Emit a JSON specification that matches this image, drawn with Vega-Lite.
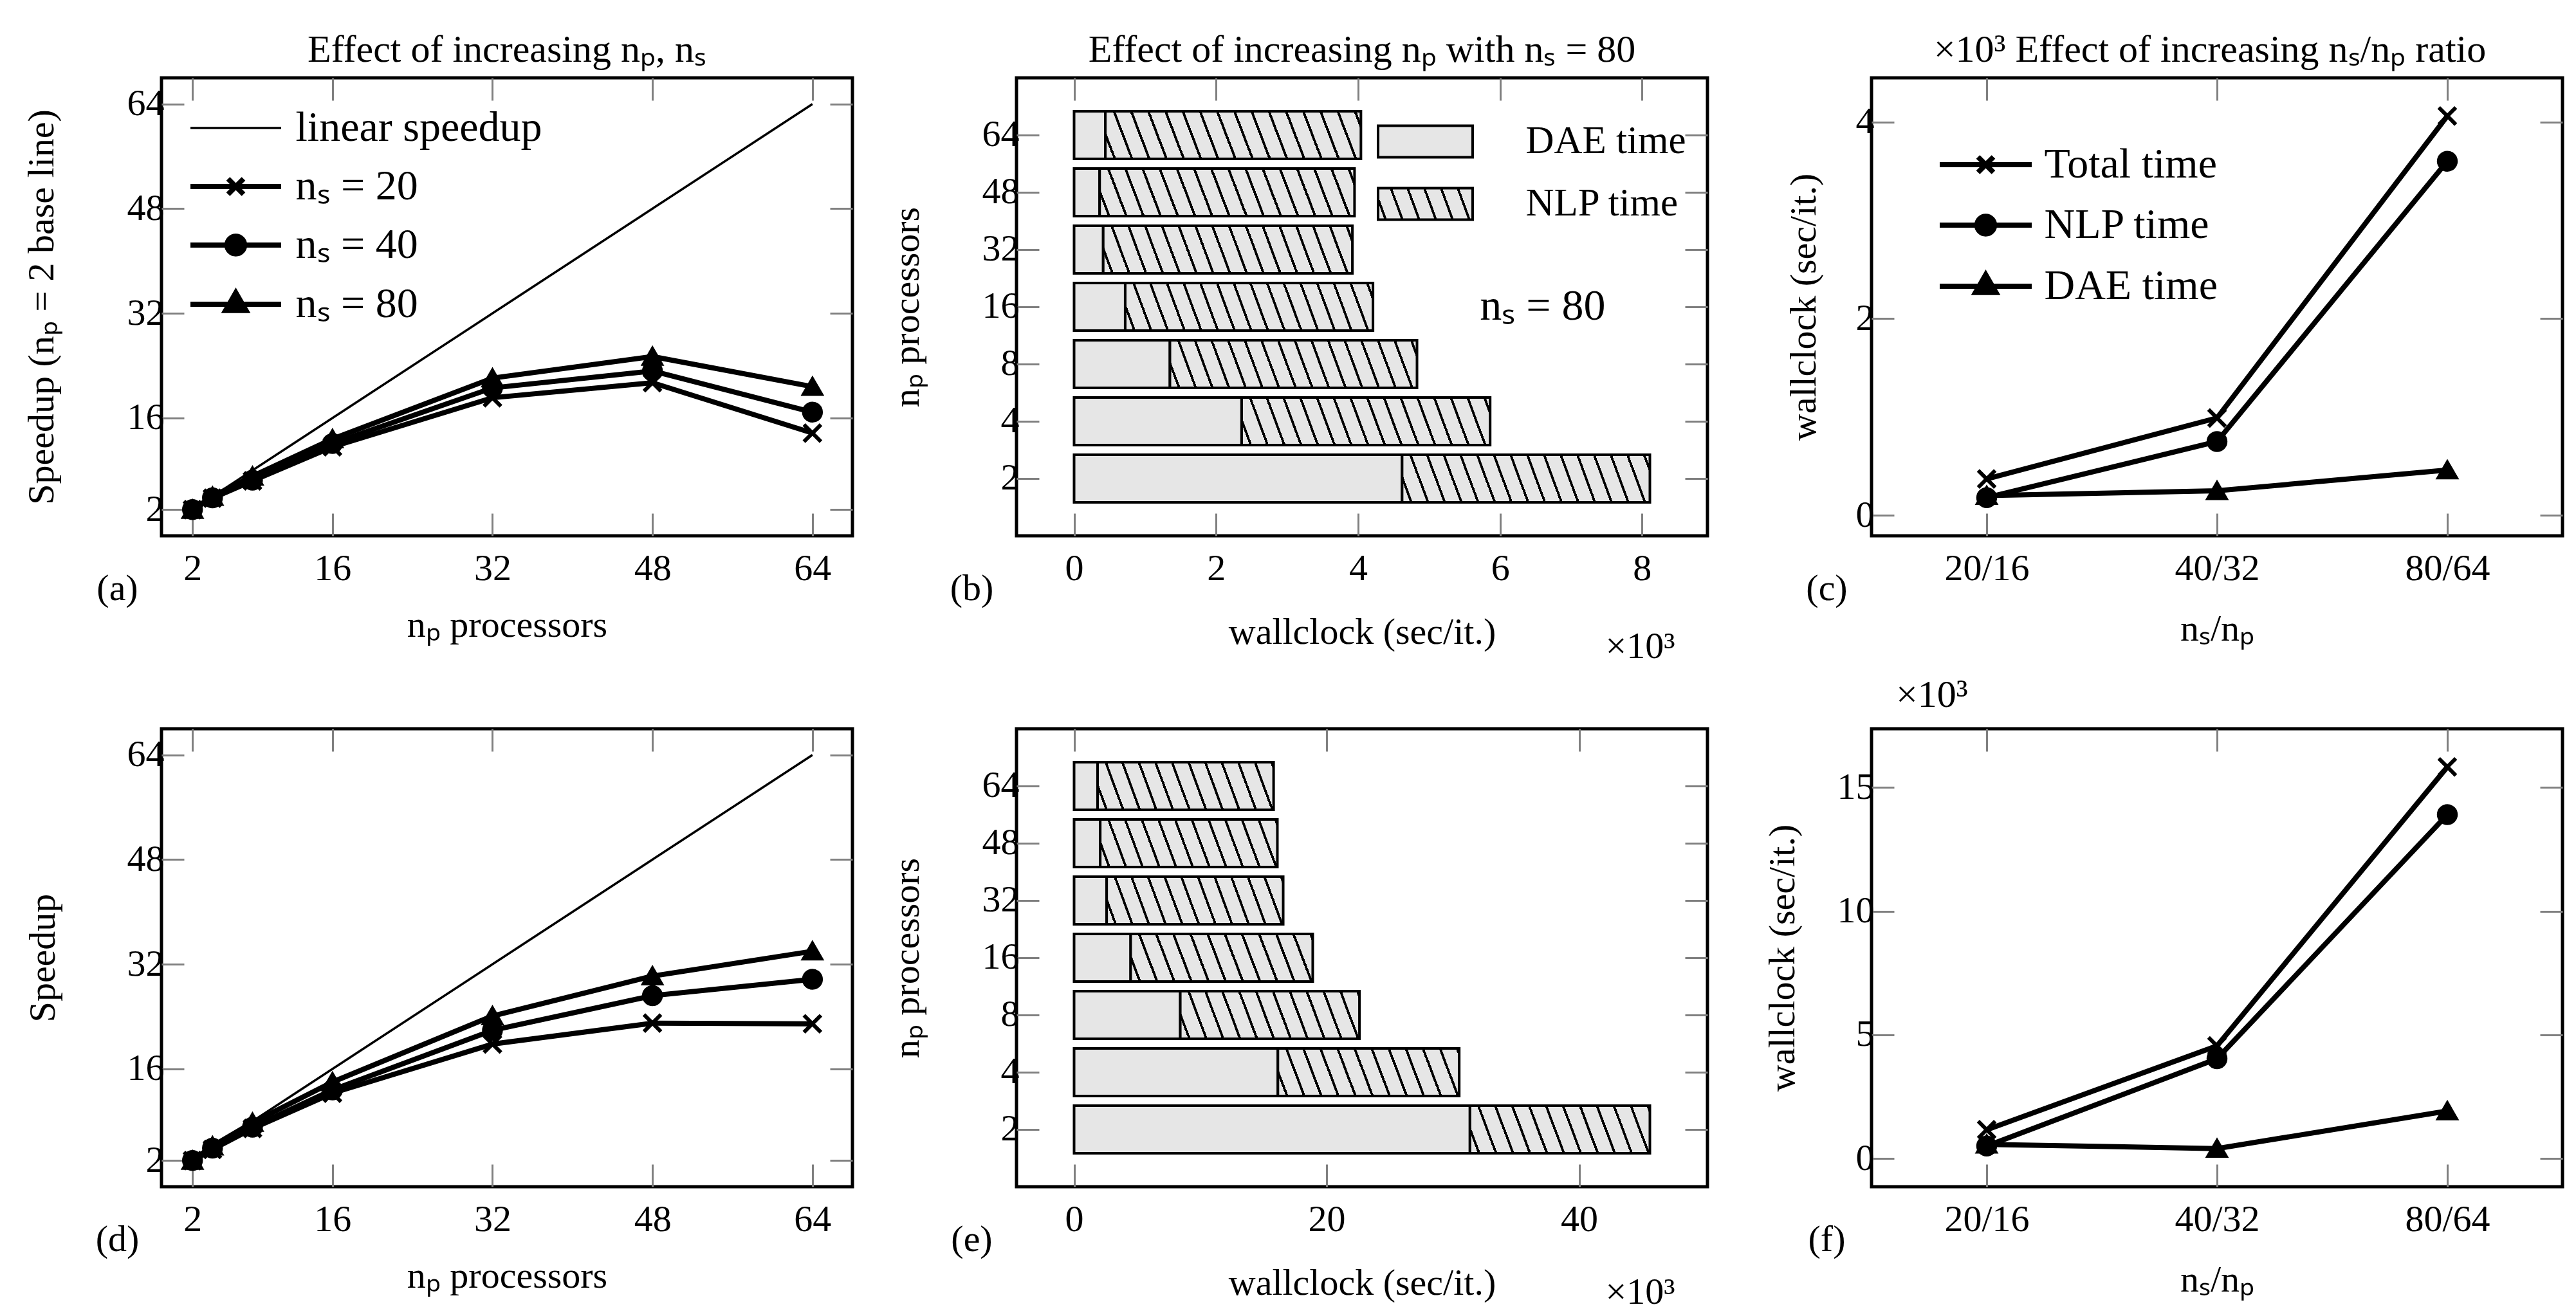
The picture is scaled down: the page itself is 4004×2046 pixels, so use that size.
{
  "$schema": "https://vega.github.io/schema/vega-lite/v6.json",
  "background": "white",
  "padding": {"left": 33, "top": 45, "right": 0, "bottom": 0},
  "columns": 3,
  "spacing": {"row": 300, "column": 255},
  "bounds": "flush",
  "resolve": {
    "scale": {"color": "independent", "shape": "independent", "fill": "independent", "stroke": "independent"},
    "legend": {"color": "independent", "shape": "independent", "fill": "independent", "stroke": "independent"}
  },
  "config": {
    "font": "Liberation Serif",
    "view": {"stroke": "black", "strokeWidth": 5},
    "axis": {
      "domain": false, "grid": false, "ticks": true,
      "tickColor": "#808080", "tickWidth": 3, "tickSize": -35,
      "labelFont": "Liberation Serif", "labelFontSize": 58, "labelColor": "black",
      "labelPadding": 31, "labelFlush": false, "labelOverlap": false,
      "titleFont": "Liberation Serif", "titleFontSize": 58, "titleFontWeight": "normal",
      "titleColor": "black", "titleAlign": "center", "titleBaseline": "middle"
    },
    "axisX": {"labelPadding": 57},
    "axisY": {"labelPadding": 31},
    "title": {"font": "Liberation Serif", "fontSize": 60, "fontWeight": "normal", "color": "black",
              "baseline": "alphabetic", "offset": 11, "frame": "group"},
    "legend": {"labelFont": "Liberation Serif", "labelFontSize": 66, "labelColor": "black", "padding": 0, "labelLimit": 2000}
  },
  "concat": [
    {
      "width": 1074, "height": 712,
      "title": {"text": "Effect of increasing nₚ, nₛ"},
      "data": {"values": [
        {"np": 2, "speedup": 2, "series": "linear speedup"},
        {"np": 64, "speedup": 64, "series": "linear speedup"},
        {"np": 2, "speedup": 2, "series": "nₛ = 20"},
        {"np": 4, "speedup": 3.75, "series": "nₛ = 20"},
        {"np": 8, "speedup": 6.4, "series": "nₛ = 20"},
        {"np": 16, "speedup": 11.6, "series": "nₛ = 20"},
        {"np": 32, "speedup": 19.1, "series": "nₛ = 20"},
        {"np": 48, "speedup": 21.4, "series": "nₛ = 20"},
        {"np": 64, "speedup": 13.7, "series": "nₛ = 20"},
        {"np": 2, "speedup": 2, "series": "nₛ = 40"},
        {"np": 4, "speedup": 3.8, "series": "nₛ = 40"},
        {"np": 8, "speedup": 6.5, "series": "nₛ = 40"},
        {"np": 16, "speedup": 12.1, "series": "nₛ = 40"},
        {"np": 32, "speedup": 20.6, "series": "nₛ = 40"},
        {"np": 48, "speedup": 23.2, "series": "nₛ = 40"},
        {"np": 64, "speedup": 16.9, "series": "nₛ = 40"},
        {"np": 2, "speedup": 2, "series": "nₛ = 80"},
        {"np": 4, "speedup": 4.0, "series": "nₛ = 80"},
        {"np": 8, "speedup": 7.1, "series": "nₛ = 80"},
        {"np": 16, "speedup": 12.8, "series": "nₛ = 80"},
        {"np": 32, "speedup": 22.1, "series": "nₛ = 80"},
        {"np": 48, "speedup": 25.4, "series": "nₛ = 80"},
        {"np": 64, "speedup": 20.8, "series": "nₛ = 80"}
      ]},
      "layer": [
        {
          "mark": {"type": "line", "strokeJoin": "miter"},
          "encoding": {
            "x": {"field": "np", "type": "quantitative",
                  "scale": {"domain": [-1.1, 68], "nice": false, "zero": false},
                  "axis": {"values": [2, 16, 32, 48, 64], "title": "nₚ processors", "titleX": 537, "titleY": 139}},
            "y": {"field": "speedup", "type": "quantitative",
                  "scale": {"domain": [-2, 68], "nice": false, "zero": false},
                  "axis": {"values": [2, 16, 32, 48, 64], "title": "Speedup (nₚ = 2 base line)",
                           "titleX": -186, "titleY": 356, "titleAngle": 270, "titleBaseline": "middle"}},
            "color": {"field": "series", "type": "nominal",
                      "scale": {"domain": ["linear speedup", "nₛ = 20", "nₛ = 40", "nₛ = 80"],
                                "range": ["black", "black", "black", "black"]},
                      "legend": {
                        "orient": "none", "legendX": 45, "legendY": 45, "title": null,
                        "symbolType": "M-2.431,0L2.431,0", "symbolSize": 3364, "symbolStrokeWidth": 8,
                        "symbolOffset": 37.5, "labelOffset": 60, "rowPadding": 25,
                        "encode": {"symbols": {"update": {
                          "shape": {"signal": "datum.value === 'linear speedup' ? 'M-2.431,-0.06L2.431,-0.06L2.431,0.06L-2.431,0.06Z' : datum.value === 'nₛ = 20' ? 'M-2.431,0L2.431,0M-0.414,-0.414L0.414,0.414M-0.414,0.414L0.414,-0.414' : datum.value === 'nₛ = 40' ? 'M-2.431,0L2.431,0M0.472,0A0.472,0.472,0,1,1,-0.472,0A0.472,0.472,0,1,1,0.472,0Z' : 'M-2.431,0L2.431,0M0,-0.62L0.55,0.34L-0.55,0.34Z'"},
                          "strokeOpacity": {"signal": "datum.value === 'linear speedup' ? 0 : 1"},
                          "strokeWidth": {"value": 8},
                          "fill": {"value": "black"},
                          "opacity": {"value": 1}, "fillOpacity": {"value": 1}
                        }}}
                      }},
            "strokeWidth": {"condition": {"test": "datum.series === 'linear speedup'", "value": 3.5}, "value": 8}
          }
        },
        {
          "transform": [{"filter": "datum.series !== 'linear speedup'"}],
          "mark": {"type": "point", "filled": true, "fill": "black", "stroke": "black", "strokeWidth": 6, "size": 700, "opacity": 1},
          "encoding": {
            "x": {"field": "np", "type": "quantitative", "axis": null},
            "y": {"field": "speedup", "type": "quantitative", "axis": null},
            "shape": {"field": "series", "type": "nominal",
                      "scale": {"domain": ["nₛ = 20", "nₛ = 40", "nₛ = 80"],
                                "range": ["M-1,-1L1,1M-1,1L1,-1", "circle", "triangle-up"]},
                      "legend": null}
          }
        },
        {
          "mark": {"type": "point", "opacity": 0},
          "encoding": {
            "x": {"field": "np", "type": "quantitative",
                  "axis": {"orient": "top", "values": [2, 16, 32, 48, 64], "labels": false,
                           "title": "(a)", "titleX": -69, "titleY": 794}},
            "y": {"field": "speedup", "type": "quantitative",
                  "axis": {"orient": "right", "values": [2, 16, 32, 48, 64], "labels": false, "title": null}}
          }
        }
      ],
      "resolve": {"axis": {"x": "independent", "y": "independent"}}
    },
    {
      "width": 1074, "height": 712,
      "title": {"text": "Effect of increasing nₚ with nₛ = 80"},
      "data": {"values": [
        {"np": "64", "dae": 0.44, "total": 4.04},
        {"np": "48", "dae": 0.36, "total": 3.95},
        {"np": "32", "dae": 0.41, "total": 3.92},
        {"np": "16", "dae": 0.72, "total": 4.21},
        {"np": "8", "dae": 1.35, "total": 4.83},
        {"np": "4", "dae": 2.36, "total": 5.86},
        {"np": "2", "dae": 4.62, "total": 8.11}
      ]},
      "layer": [
        {
          "mark": {"type": "bar", "stroke": "black", "strokeWidth": 4},
          "encoding": {
            "y": {"field": "np", "type": "ordinal", "sort": ["64", "48", "32", "16", "8", "4", "2"],
                  "scale": {"paddingInner": 0.17, "paddingOuter": 0.585},
                  "axis": {"title": "nₚ processors", "titleX": -170, "titleY": 356, "titleAngle": 270, "titleBaseline": "middle"}},
            "x": {"field": "dae", "type": "quantitative",
                  "scale": {"domain": [-0.811, 8.921], "nice": false, "zero": false},
                  "axis": {"values": [0, 2, 4, 6, 8], "title": "wallclock (sec/it.)", "titleX": 537, "titleY": 150}},
            "x2": {"datum": 0},
            "fill": {"datum": "DAE time", "type": "nominal",
                     "scale": {"domain": ["DAE time", "NLP time"], "range": ["#e6e6e6",
                       {"expr": "{gradient: 'linear', x1: 0, y1: 1, x2: 1.1065, y2: 0.8636, stops: [{offset: 0, color: '#e6e6e6'}, {offset: 0.06, color: '#e6e6e6'}, {offset: 0.06, color: 'black'}, {offset: 0.0842, color: 'black'}, {offset: 0.0842, color: '#e6e6e6'}, {offset: 0.2175, color: '#e6e6e6'}, {offset: 0.2175, color: 'black'}, {offset: 0.2417, color: 'black'}, {offset: 0.2417, color: '#e6e6e6'}, {offset: 0.375, color: '#e6e6e6'}, {offset: 0.375, color: 'black'}, {offset: 0.3992, color: 'black'}, {offset: 0.3992, color: '#e6e6e6'}, {offset: 0.5325, color: '#e6e6e6'}, {offset: 0.5325, color: 'black'}, {offset: 0.5567, color: 'black'}, {offset: 0.5567, color: '#e6e6e6'}, {offset: 0.69, color: '#e6e6e6'}, {offset: 0.69, color: 'black'}, {offset: 0.7142, color: 'black'}, {offset: 0.7142, color: '#e6e6e6'}, {offset: 0.8475, color: '#e6e6e6'}, {offset: 0.8475, color: 'black'}, {offset: 0.8717, color: 'black'}, {offset: 0.8717, color: '#e6e6e6'}, {offset: 1, color: '#e6e6e6'}]}"}]},
                     "legend": {
                       "orient": "none", "legendX": 564, "legendY": 68, "title": null,
                       "symbolType": "M-2.534,-0.845L2.534,-0.845L2.534,0.845L-2.534,0.845Z", "symbolSize": 3364,
                       "symbolStrokeColor": "black", "symbolStrokeWidth": 4,
                       "symbolOffset": 40.5, "labelOffset": 125, "rowPadding": 31, "labelFontSize": 61,
                       "encode": {"symbols": {"update": {
                         "stroke": {"value": "black"}, "strokeWidth": {"value": 4},
                         "opacity": {"value": 1}, "fillOpacity": {"value": 1}, "strokeOpacity": {"value": 1}
                       }}}
                     }}
          }
        },
        {
          "mark": {"type": "bar", "stroke": "black", "strokeWidth": 4,
                   "fill": {"gradient": "linear", "x1": 0, "y1": 1, "x2": 1.0656, "y2": 0.9244, "stops": [
                     {"offset": 0, "color": "#e6e6e6"},
                     {"offset": 0.03, "color": "#e6e6e6"}, {"offset": 0.03, "color": "black"}, {"offset": 0.0397, "color": "black"}, {"offset": 0.0397, "color": "#e6e6e6"},
                     {"offset": 0.0929, "color": "#e6e6e6"}, {"offset": 0.0929, "color": "black"}, {"offset": 0.1026, "color": "black"}, {"offset": 0.1026, "color": "#e6e6e6"},
                     {"offset": 0.1558, "color": "#e6e6e6"}, {"offset": 0.1558, "color": "black"}, {"offset": 0.1655, "color": "black"}, {"offset": 0.1655, "color": "#e6e6e6"},
                     {"offset": 0.2187, "color": "#e6e6e6"}, {"offset": 0.2187, "color": "black"}, {"offset": 0.2284, "color": "black"}, {"offset": 0.2284, "color": "#e6e6e6"},
                     {"offset": 0.2816, "color": "#e6e6e6"}, {"offset": 0.2816, "color": "black"}, {"offset": 0.2913, "color": "black"}, {"offset": 0.2913, "color": "#e6e6e6"},
                     {"offset": 0.3445, "color": "#e6e6e6"}, {"offset": 0.3445, "color": "black"}, {"offset": 0.3542, "color": "black"}, {"offset": 0.3542, "color": "#e6e6e6"},
                     {"offset": 0.4074, "color": "#e6e6e6"}, {"offset": 0.4074, "color": "black"}, {"offset": 0.4171, "color": "black"}, {"offset": 0.4171, "color": "#e6e6e6"},
                     {"offset": 0.4703, "color": "#e6e6e6"}, {"offset": 0.4703, "color": "black"}, {"offset": 0.48, "color": "black"}, {"offset": 0.48, "color": "#e6e6e6"},
                     {"offset": 0.5332, "color": "#e6e6e6"}, {"offset": 0.5332, "color": "black"}, {"offset": 0.5429, "color": "black"}, {"offset": 0.5429, "color": "#e6e6e6"},
                     {"offset": 0.5961, "color": "#e6e6e6"}, {"offset": 0.5961, "color": "black"}, {"offset": 0.6058, "color": "black"}, {"offset": 0.6058, "color": "#e6e6e6"},
                     {"offset": 0.659, "color": "#e6e6e6"}, {"offset": 0.659, "color": "black"}, {"offset": 0.6687, "color": "black"}, {"offset": 0.6687, "color": "#e6e6e6"},
                     {"offset": 0.7219, "color": "#e6e6e6"}, {"offset": 0.7219, "color": "black"}, {"offset": 0.7316, "color": "black"}, {"offset": 0.7316, "color": "#e6e6e6"},
                     {"offset": 0.7848, "color": "#e6e6e6"}, {"offset": 0.7848, "color": "black"}, {"offset": 0.7945, "color": "black"}, {"offset": 0.7945, "color": "#e6e6e6"},
                     {"offset": 0.8477, "color": "#e6e6e6"}, {"offset": 0.8477, "color": "black"}, {"offset": 0.8574, "color": "black"}, {"offset": 0.8574, "color": "#e6e6e6"},
                     {"offset": 0.9106, "color": "#e6e6e6"}, {"offset": 0.9106, "color": "black"}, {"offset": 0.9203, "color": "black"}, {"offset": 0.9203, "color": "#e6e6e6"},
                     {"offset": 0.9735, "color": "#e6e6e6"}, {"offset": 0.9735, "color": "black"}, {"offset": 0.9832, "color": "black"}, {"offset": 0.9832, "color": "#e6e6e6"},
                     {"offset": 1, "color": "#e6e6e6"}
                   ]}},
          "encoding": {
            "y": {"field": "np", "type": "ordinal", "sort": ["64", "48", "32", "16", "8", "4", "2"], "axis": null},
            "x": {"field": "dae", "type": "quantitative", "axis": null},
            "x2": {"field": "total"}
          }
        },
        {
          "data": {"values": [{}]},
          "mark": {"type": "text", "font": "Liberation Serif", "fontSize": 68, "color": "black", "align": "center", "baseline": "middle"},
          "encoding": {
            "x": {"datum": 6.6, "type": "quantitative", "axis": null},
            "y": {"datum": "16", "type": "ordinal", "axis": null},
            "text": {"value": "nₛ = 80"}
          }
        },
        {
          "mark": {"type": "point", "opacity": 0},
          "encoding": {
            "x": {"field": "dae", "type": "quantitative",
                  "axis": {"orient": "top", "values": [0, 2, 4, 6, 8], "labels": false,
                           "title": "(b)", "titleX": -70, "titleY": 794}},
            "y": {"field": "np", "type": "ordinal", "sort": ["64", "48", "32", "16", "8", "4", "2"],
                  "axis": {"orient": "right", "labels": false, "title": "×10³", "titleAngle": 0,
                           "titleX": -105, "titleY": 884}}
          }
        }
      ],
      "resolve": {"axis": {"x": "independent", "y": "independent"}}
    },
    {
      "width": 1074, "height": 712,
      "title": {"text": "×10³  Effect of increasing nₛ/nₚ ratio", "dx": -11},
      "data": {"values": [
        {"ratio": "20/16", "series": "Total time", "t": 0.37},
        {"ratio": "40/32", "series": "Total time", "t": 0.99},
        {"ratio": "80/64", "series": "Total time", "t": 4.06},
        {"ratio": "20/16", "series": "NLP time", "t": 0.18},
        {"ratio": "40/32", "series": "NLP time", "t": 0.75},
        {"ratio": "80/64", "series": "NLP time", "t": 3.6},
        {"ratio": "20/16", "series": "DAE time", "t": 0.2},
        {"ratio": "40/32", "series": "DAE time", "t": 0.25},
        {"ratio": "80/64", "series": "DAE time", "t": 0.46}
      ]},
      "layer": [
        {
          "mark": {"type": "line", "strokeWidth": 8, "strokeJoin": "miter"},
          "encoding": {
            "x": {"field": "ratio", "type": "ordinal", "sort": ["20/16", "40/32", "80/64"],
                  "scale": {"type": "point", "padding": 0.5},
                  "axis": {"labelAngle": 0, "title": "nₛ/nₚ", "titleX": 537, "titleY": 145}},
            "y": {"field": "t", "type": "quantitative",
                  "scale": {"domain": [-0.208, 4.448], "nice": false, "zero": false},
                  "axis": {"values": [0, 2, 4], "title": "wallclock (sec/it.)",
                           "titleX": -105, "titleY": 356, "titleAngle": 270, "titleBaseline": "middle"}},
            "color": {"field": "series", "type": "nominal",
                      "scale": {"domain": ["Total time", "NLP time", "DAE time"], "range": ["black", "black", "black"]},
                      "legend": {
                        "orient": "none", "legendX": 106, "legendY": 102, "title": null,
                        "symbolType": "M-2.466,0L2.466,0", "symbolSize": 3364, "symbolStrokeWidth": 8,
                        "symbolOffset": 38.5, "labelOffset": 58, "rowPadding": 28,
                        "encode": {"symbols": {"update": {
                          "shape": {"signal": "datum.value === 'Total time' ? 'M-2.466,0L2.466,0M-0.414,-0.414L0.414,0.414M-0.414,0.414L0.414,-0.414' : datum.value === 'NLP time' ? 'M-2.466,0L2.466,0M0.472,0A0.472,0.472,0,1,1,-0.472,0A0.472,0.472,0,1,1,0.472,0Z' : 'M-2.466,0L2.466,0M0,-0.62L0.55,0.34L-0.55,0.34Z'"},
                          "strokeWidth": {"value": 8},
                          "fill": {"value": "black"}, "stroke": {"value": "black"},
                          "opacity": {"value": 1}, "fillOpacity": {"value": 1}, "strokeOpacity": {"value": 1}
                        }}}
                      }}
          }
        },
        {
          "mark": {"type": "point", "filled": true, "fill": "black", "stroke": "black", "strokeWidth": 6, "size": 700, "opacity": 1},
          "encoding": {
            "x": {"field": "ratio", "type": "ordinal", "sort": ["20/16", "40/32", "80/64"], "axis": null},
            "y": {"field": "t", "type": "quantitative", "axis": null},
            "shape": {"field": "series", "type": "nominal",
                      "scale": {"domain": ["NLP time", "Total time", "DAE time"],
                                "range": ["circle", "M-1,-1L1,1M-1,1L1,-1", "triangle-up"]},
                      "legend": null}
          }
        },
        {
          "mark": {"type": "point", "opacity": 0},
          "encoding": {
            "x": {"field": "ratio", "type": "ordinal", "sort": ["20/16", "40/32", "80/64"],
                  "axis": {"orient": "top", "labels": false, "title": "(c)", "titleX": -70, "titleY": 794}},
            "y": {"field": "t", "type": "quantitative",
                  "axis": {"orient": "right", "values": [0, 2, 4], "labels": false, "title": null}}
          }
        }
      ],
      "resolve": {"axis": {"x": "independent", "y": "independent"}}
    },
    {
      "width": 1074, "height": 712,
      "data": {"values": [
        {"np": 2, "speedup": 2, "series": "linear speedup"},
        {"np": 64, "speedup": 64, "series": "linear speedup"},
        {"np": 2, "speedup": 2, "series": "nₛ = 20"},
        {"np": 4, "speedup": 3.7, "series": "nₛ = 20"},
        {"np": 8, "speedup": 6.9, "series": "nₛ = 20"},
        {"np": 16, "speedup": 12.3, "series": "nₛ = 20"},
        {"np": 32, "speedup": 19.8, "series": "nₛ = 20"},
        {"np": 48, "speedup": 23.0, "series": "nₛ = 20"},
        {"np": 64, "speedup": 22.9, "series": "nₛ = 20"},
        {"np": 2, "speedup": 2, "series": "nₛ = 40"},
        {"np": 4, "speedup": 3.9, "series": "nₛ = 40"},
        {"np": 8, "speedup": 7.1, "series": "nₛ = 40"},
        {"np": 16, "speedup": 12.8, "series": "nₛ = 40"},
        {"np": 32, "speedup": 21.9, "series": "nₛ = 40"},
        {"np": 48, "speedup": 27.2, "series": "nₛ = 40"},
        {"np": 64, "speedup": 29.7, "series": "nₛ = 40"},
        {"np": 2, "speedup": 2, "series": "nₛ = 80"},
        {"np": 4, "speedup": 4.2, "series": "nₛ = 80"},
        {"np": 8, "speedup": 7.8, "series": "nₛ = 80"},
        {"np": 16, "speedup": 14.0, "series": "nₛ = 80"},
        {"np": 32, "speedup": 24.1, "series": "nₛ = 80"},
        {"np": 48, "speedup": 30.2, "series": "nₛ = 80"},
        {"np": 64, "speedup": 34.0, "series": "nₛ = 80"}
      ]},
      "layer": [
        {
          "mark": {"type": "line", "strokeJoin": "miter"},
          "encoding": {
            "x": {"field": "np", "type": "quantitative",
                  "scale": {"domain": [-1.1, 68], "nice": false, "zero": false},
                  "axis": {"values": [2, 16, 32, 48, 64], "title": "nₚ processors", "titleX": 537, "titleY": 139}},
            "y": {"field": "speedup", "type": "quantitative",
                  "scale": {"domain": [-2, 68], "nice": false, "zero": false},
                  "axis": {"values": [2, 16, 32, 48, 64], "title": "Speedup",
                           "titleX": -184, "titleY": 356, "titleAngle": 270, "titleBaseline": "middle"}},
            "detail": {"field": "series", "type": "nominal"},
            "color": {"value": "black"},
            "strokeWidth": {"condition": {"test": "datum.series === 'linear speedup'", "value": 3.5}, "value": 8}
          }
        },
        {
          "transform": [{"filter": "datum.series !== 'linear speedup'"}],
          "mark": {"type": "point", "filled": true, "fill": "black", "stroke": "black", "strokeWidth": 6, "size": 700, "opacity": 1},
          "encoding": {
            "x": {"field": "np", "type": "quantitative", "axis": null},
            "y": {"field": "speedup", "type": "quantitative", "axis": null},
            "shape": {"field": "series", "type": "nominal",
                      "scale": {"domain": ["nₛ = 20", "nₛ = 40", "nₛ = 80"],
                                "range": ["M-1,-1L1,1M-1,1L1,-1", "circle", "triangle-up"]},
                      "legend": null}
          }
        },
        {
          "mark": {"type": "point", "opacity": 0},
          "encoding": {
            "x": {"field": "np", "type": "quantitative",
                  "axis": {"orient": "top", "values": [2, 16, 32, 48, 64], "labels": false,
                           "title": "(d)", "titleX": -69, "titleY": 794}},
            "y": {"field": "speedup", "type": "quantitative",
                  "axis": {"orient": "right", "values": [2, 16, 32, 48, 64], "labels": false, "title": null}}
          }
        }
      ],
      "resolve": {"axis": {"x": "independent", "y": "independent"}}
    },
    {
      "width": 1074, "height": 712,
      "data": {"values": [
        {"np": "64", "dae": 1.86, "total": 15.8},
        {"np": "48", "dae": 2.07, "total": 16.1},
        {"np": "32", "dae": 2.58, "total": 16.56},
        {"np": "16", "dae": 4.48, "total": 18.9},
        {"np": "8", "dae": 8.41, "total": 22.6},
        {"np": "4", "dae": 16.14, "total": 30.5},
        {"np": "2", "dae": 31.35, "total": 45.6}
      ]},
      "layer": [
        {
          "mark": {"type": "bar", "stroke": "black", "strokeWidth": 4, "fill": "#e6e6e6"},
          "encoding": {
            "y": {"field": "np", "type": "ordinal", "sort": ["64", "48", "32", "16", "8", "4", "2"],
                  "scale": {"paddingInner": 0.17, "paddingOuter": 0.585},
                  "axis": {"title": "nₚ processors", "titleX": -170, "titleY": 356, "titleAngle": 270, "titleBaseline": "middle"}},
            "x": {"field": "dae", "type": "quantitative",
                  "scale": {"domain": [-4.56, 50.16], "nice": false, "zero": false},
                  "axis": {"values": [0, 20, 40], "title": "wallclock (sec/it.)", "titleX": 537, "titleY": 150}},
            "x2": {"datum": 0}
          }
        },
        {
          "mark": {"type": "bar", "stroke": "black", "strokeWidth": 4,
                   "fill": {"gradient": "linear", "x1": 0, "y1": 1, "x2": 1.0885, "y2": 0.8921, "stops": [
                     {"offset": 0, "color": "#e6e6e6"},
                     {"offset": 0.04, "color": "#e6e6e6"}, {"offset": 0.04, "color": "black"}, {"offset": 0.0532, "color": "black"}, {"offset": 0.0532, "color": "#e6e6e6"},
                     {"offset": 0.1257, "color": "#e6e6e6"}, {"offset": 0.1257, "color": "black"}, {"offset": 0.1389, "color": "black"}, {"offset": 0.1389, "color": "#e6e6e6"},
                     {"offset": 0.2114, "color": "#e6e6e6"}, {"offset": 0.2114, "color": "black"}, {"offset": 0.2246, "color": "black"}, {"offset": 0.2246, "color": "#e6e6e6"},
                     {"offset": 0.2971, "color": "#e6e6e6"}, {"offset": 0.2971, "color": "black"}, {"offset": 0.3103, "color": "black"}, {"offset": 0.3103, "color": "#e6e6e6"},
                     {"offset": 0.3828, "color": "#e6e6e6"}, {"offset": 0.3828, "color": "black"}, {"offset": 0.396, "color": "black"}, {"offset": 0.396, "color": "#e6e6e6"},
                     {"offset": 0.4685, "color": "#e6e6e6"}, {"offset": 0.4685, "color": "black"}, {"offset": 0.4817, "color": "black"}, {"offset": 0.4817, "color": "#e6e6e6"},
                     {"offset": 0.5542, "color": "#e6e6e6"}, {"offset": 0.5542, "color": "black"}, {"offset": 0.5674, "color": "black"}, {"offset": 0.5674, "color": "#e6e6e6"},
                     {"offset": 0.6399, "color": "#e6e6e6"}, {"offset": 0.6399, "color": "black"}, {"offset": 0.6531, "color": "black"}, {"offset": 0.6531, "color": "#e6e6e6"},
                     {"offset": 0.7256, "color": "#e6e6e6"}, {"offset": 0.7256, "color": "black"}, {"offset": 0.7388, "color": "black"}, {"offset": 0.7388, "color": "#e6e6e6"},
                     {"offset": 0.8113, "color": "#e6e6e6"}, {"offset": 0.8113, "color": "black"}, {"offset": 0.8245, "color": "black"}, {"offset": 0.8245, "color": "#e6e6e6"},
                     {"offset": 0.897, "color": "#e6e6e6"}, {"offset": 0.897, "color": "black"}, {"offset": 0.9102, "color": "black"}, {"offset": 0.9102, "color": "#e6e6e6"},
                     {"offset": 0.9827, "color": "#e6e6e6"}, {"offset": 0.9827, "color": "black"}, {"offset": 0.9959, "color": "black"}, {"offset": 0.9959, "color": "#e6e6e6"},
                     {"offset": 1, "color": "#e6e6e6"}
                   ]}},
          "encoding": {
            "y": {"field": "np", "type": "ordinal", "sort": ["64", "48", "32", "16", "8", "4", "2"], "axis": null},
            "x": {"field": "dae", "type": "quantitative", "axis": null},
            "x2": {"field": "total"}
          }
        },
        {
          "mark": {"type": "point", "opacity": 0},
          "encoding": {
            "x": {"field": "dae", "type": "quantitative",
                  "axis": {"orient": "top", "values": [0, 20, 40], "labels": false,
                           "title": "(e)", "titleX": -70, "titleY": 794}},
            "y": {"field": "np", "type": "ordinal", "sort": ["64", "48", "32", "16", "8", "4", "2"],
                  "axis": {"orient": "right", "labels": false, "title": "×10³", "titleAngle": 0,
                           "titleX": -105, "titleY": 876}}
          }
        }
      ],
      "resolve": {"axis": {"x": "independent", "y": "independent"}}
    },
    {
      "width": 1074, "height": 712,
      "title": {"text": "×10³", "anchor": "start", "dx": 38, "offset": 20},
      "data": {"values": [
        {"ratio": "20/16", "series": "Total time", "t": 1.16},
        {"ratio": "40/32", "series": "Total time", "t": 4.55},
        {"ratio": "80/64", "series": "Total time", "t": 15.83},
        {"ratio": "20/16", "series": "NLP time", "t": 0.5},
        {"ratio": "40/32", "series": "NLP time", "t": 4.03},
        {"ratio": "80/64", "series": "NLP time", "t": 13.9},
        {"ratio": "20/16", "series": "DAE time", "t": 0.57},
        {"ratio": "40/32", "series": "DAE time", "t": 0.4},
        {"ratio": "80/64", "series": "DAE time", "t": 1.92}
      ]},
      "layer": [
        {
          "mark": {"type": "line", "strokeWidth": 8, "strokeJoin": "miter", "color": "black"},
          "encoding": {
            "x": {"field": "ratio", "type": "ordinal", "sort": ["20/16", "40/32", "80/64"],
                  "scale": {"type": "point", "padding": 0.5},
                  "axis": {"labelAngle": 0, "title": "nₛ/nₚ", "titleX": 537, "titleY": 145}},
            "y": {"field": "t", "type": "quantitative",
                  "scale": {"domain": [-1.143, 17.373], "nice": false, "zero": false},
                  "axis": {"values": [0, 5, 10, 15], "title": "wallclock (sec/it.)",
                           "titleX": -138, "titleY": 356, "titleAngle": 270, "titleBaseline": "middle"}},
            "detail": {"field": "series", "type": "nominal"}
          }
        },
        {
          "mark": {"type": "point", "filled": true, "fill": "black", "stroke": "black", "strokeWidth": 6, "size": 700, "opacity": 1},
          "encoding": {
            "x": {"field": "ratio", "type": "ordinal", "sort": ["20/16", "40/32", "80/64"], "axis": null},
            "y": {"field": "t", "type": "quantitative", "axis": null},
            "shape": {"field": "series", "type": "nominal",
                      "scale": {"domain": ["Total time", "NLP time", "DAE time"],
                                "range": ["M-1,-1L1,1M-1,1L1,-1", "circle", "triangle-up"]},
                      "legend": null}
          }
        },
        {
          "mark": {"type": "point", "opacity": 0},
          "encoding": {
            "x": {"field": "ratio", "type": "ordinal", "sort": ["20/16", "40/32", "80/64"],
                  "axis": {"orient": "top", "labels": false, "title": "(f)", "titleX": -70, "titleY": 794}},
            "y": {"field": "t", "type": "quantitative",
                  "axis": {"orient": "right", "values": [0, 5, 10, 15], "labels": false, "title": null}}
          }
        }
      ],
      "resolve": {"axis": {"x": "independent", "y": "independent"}}
    }
  ]
}
